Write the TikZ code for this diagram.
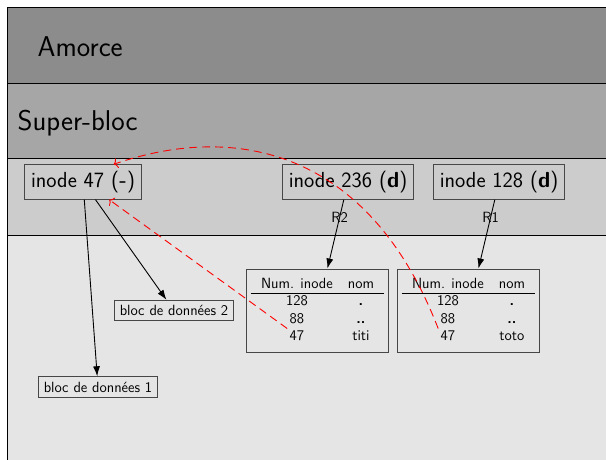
\documentclass[tikz,border=0pt]{standalone}
\usepackage{fontspec}
\usetikzlibrary{matrix,arrows.meta,calc}
\begin{document}
\begin{tikzpicture}[x=1pt,y=-1pt,
  box/.style={draw=black!72,line width=1pt},
  big/.style={font=\fontsize{21.8}{26}\selectfont\sffamily, inner sep=6.3pt},
  small/.style={font=\fontsize{14.8}{17}\selectfont\sffamily},
  bandlabel/.style={anchor=base west, inner sep=0pt, font=\fontsize{28.6}{34}\selectfont\sffamily},
  blk/.style={draw=black,line width=0.9pt,-{Latex[length=10pt,width=7pt]}},
  redl/.style={draw=red,line width=0.9pt,dash pattern=on 8pt off 5pt,-{To[length=4pt,width=10pt]}},
  tbl/.style={matrix of nodes, box, inner xsep=13pt, inner ysep=6.5pt, column sep=11pt, row sep=0pt,
     nodes={small, text height=10.5pt, text depth=3pt, inner xsep=2pt, inner ysep=2pt},
     column 2/.style={nodes={minimum width=28pt}}}
]
\useasboundingbox (0,0) rectangle (606,459);
\clip (0,0) rectangle (606,459);
% bands
\fill[black!45] (7,7) rectangle (620,83);
\fill[black!35] (7,83) rectangle (620,158);
\fill[black!20] (7,158) rectangle (620,235);
\fill[black!10] (7,235) rectangle (620,470);
\draw[black,line width=1pt] (7,470) -- (7,7) -- (620,7);
\draw[black,line width=1pt] (7,83) -- (620,83);
\draw[black,line width=1pt] (7,158) -- (620,158);
\draw[black,line width=1pt] (7,235) -- (620,235);
% band labels
\node[bandlabel] (amorce) at (37.5,56) {Amorce};
\node[bandlabel] (sb) at (17.5,130.5) {Super-bloc};
% inodes
\node[box,big] (i47) at (83,182) {inode 47 (\textbf{-})};
\node[box,big] (i236) at (348,182) {inode 236 (\textbf{d})};
\node[box,big] (i128) at (499,182) {inode 128 (\textbf{d})};
% data blocks
\node[box,small,inner sep=5pt] (b2) at (174,310.5) {bloc de données 2};
\node[box,small,inner sep=5pt] (b1) at (98,387) {bloc de données 1};
% directory tables
\matrix[tbl] (t1) at (317.5,310.5) {
  Num. inode & nom \\
  128 & \textbf{.} \\
  88 & \textbf{..} \\
  47 & titi \\
};
\matrix[tbl] (t2) at (468.5,310.5) {
  Num. inode & nom \\
  128 & \textbf{.} \\
  88 & \textbf{..} \\
  47 & toto \\
};
\draw[line width=1pt] ($(t1.west |- t1-1-1.south)+(5,0)$) -- ($(t1.east |- t1-1-1.south)+(-5,0)$);
\draw[line width=1pt] ($(t2.west |- t2-1-1.south)+(5,0)$) -- ($(t2.east |- t2-1-1.south)+(-5,0)$);
% arrows
\draw[blk] (i47) -- (b1);
\draw[blk] (i47) -- (b2);
\draw[blk] (i236) -- node[small,pos=0.26]{R2} (t1);
\draw[blk] (i128) -- node[small,pos=0.26]{R1} (t2);
% links
\draw[redl] (t1-3-1.south west) -- (i47.-34);
\draw[redl] (t2-3-1.south west) .. controls (369,150) and (236,122) .. (i47.30);
\end{tikzpicture}
\end{document}
